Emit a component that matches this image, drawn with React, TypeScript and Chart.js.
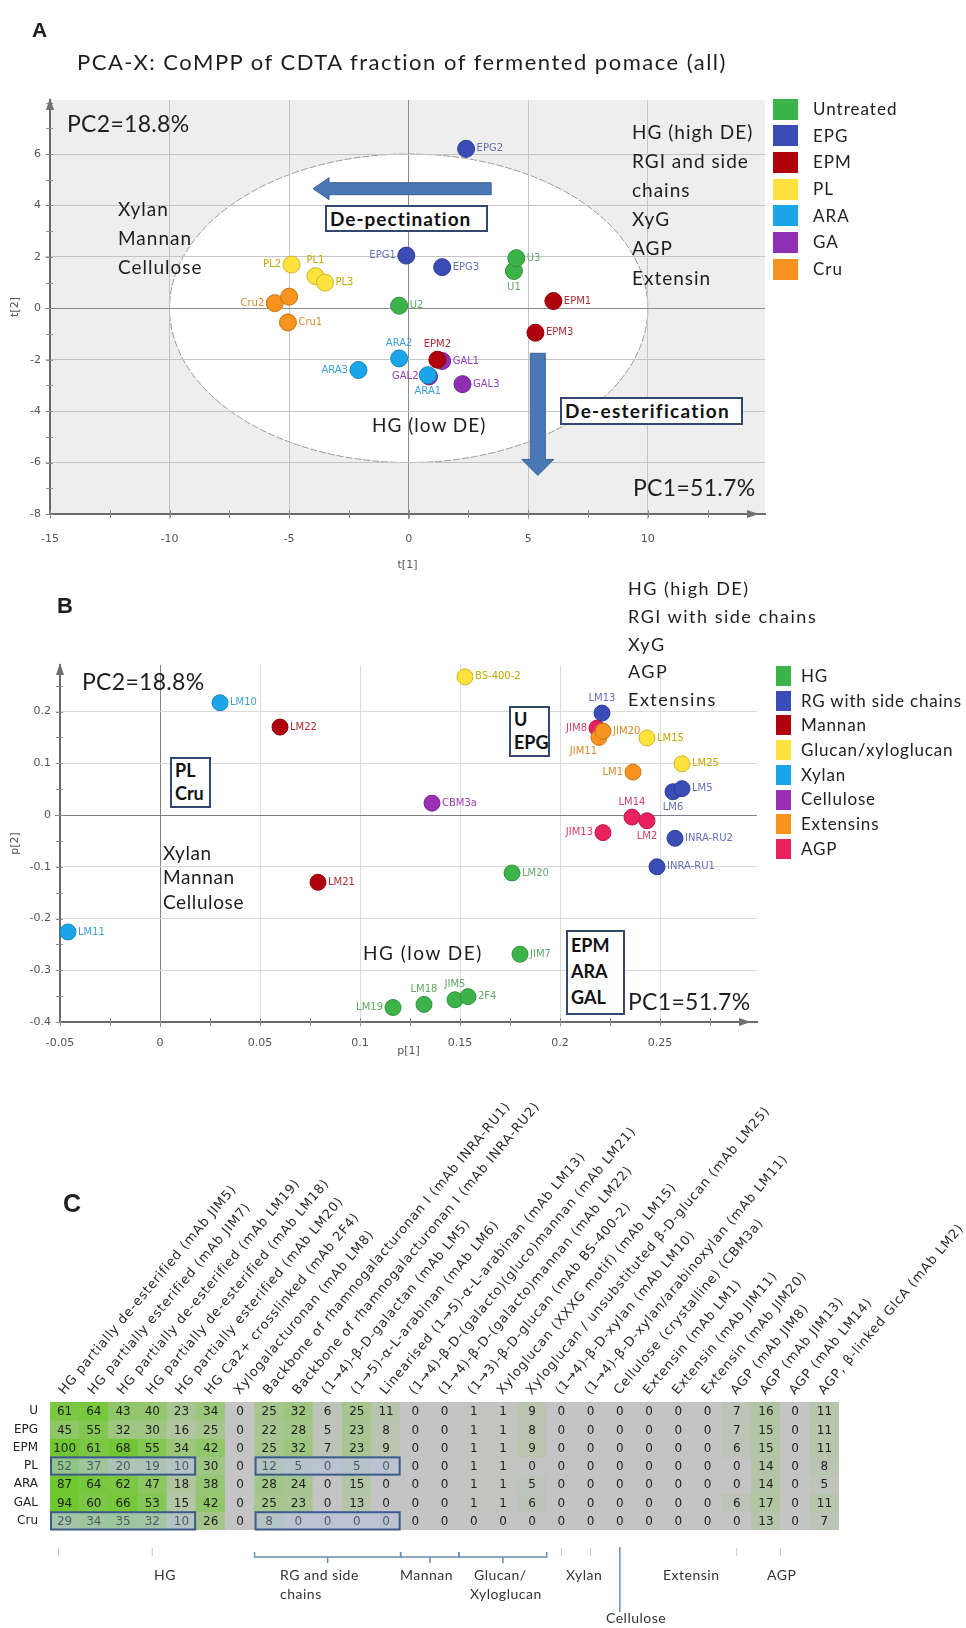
import React, { useEffect, useRef } from 'react';
import { Chart, registerables } from 'chart.js';

Chart.register(...registerables);

const FONT = 'Lato, "Open Sans", "DejaVu Sans", sans-serif';
const SMALL = '"DejaVu Sans", sans-serif';

// ================= Panel A data =================
const aTitle = 'PCA-X: CoMPP of CDTA fraction of fermented pomace (all)';
const aGroupNames = ['Untreated', 'EPG', 'EPM', 'PL', 'ARA', 'GA', 'Cru'];
const aSampleNames = ['U1', 'U2', 'U3', 'EPG1', 'EPG2', 'EPG3', 'EPM1', 'EPM2', 'EPM3', 'PL1', 'PL2', 'PL3', 'ARA1', 'ARA2', 'ARA3', 'GAL1', 'GAL2', 'GAL3', 'Cru1', 'Cru2', 'Cru3'];
const aSampleGroup = [0, 0, 0, 1, 1, 1, 2, 2, 2, 3, 3, 3, 4, 4, 4, 5, 5, 5, 6, 6, 6];
const aPC1 = [4.4, -0.4, 4.5, -0.1, 2.4, 1.4, 6.05, 1.2, 5.3, -3.9, -4.9, -3.5, 0.8, -0.4, -2.1, 1.4, 0.85, 2.25, -5.05, -5.6, -5.0];
const aPC2 = [1.45, 0.1, 1.95, 2.05, 6.2, 1.6, 0.28, -2.0, -0.95, 1.25, 1.7, 1.0, -2.6, -1.95, -2.4, -2.05, -2.65, -2.95, -0.55, 0.2, 0.45];
const aXTicks = [-15, -10, -5, 0, 5, 10];
const aYTicks = [-8, -6, -4, -2, 0, 2, 4, 6];
const aEllipseAxes = [10, 6];
const aRightNotes = ['HG (high DE)', 'RGI and side', 'chains', 'XyG', 'AGP', 'Extensin'];
const aLeftNotes = ['Xylan', 'Mannan', 'Cellulose'];

// ================= Panel B data =================
const bGroupNames = ['HG', 'RG with side chains', 'Mannan', 'Glucan/xyloglucan', 'Xylan', 'Cellulose', 'Extensins', 'AGP'];
const bProbeNames = ['LM19', 'LM18', 'JIM5', '2F4', 'LM20', 'JIM7', 'LM13', 'LM6', 'LM5', 'INRA-RU2', 'INRA-RU1', 'LM22', 'LM21', 'BS-400-2', 'LM15', 'LM25', 'LM10', 'LM11', 'CBM3a', 'LM1', 'JIM11', 'JIM20', 'JIM8', 'JIM13', 'LM14', 'LM2'];
const bProbeGroup = [0, 0, 0, 0, 0, 0, 1, 1, 1, 1, 1, 2, 2, 3, 3, 3, 4, 4, 5, 6, 6, 6, 7, 7, 7, 7];
const bP1 = [0.1165, 0.132, 0.1475, 0.154, 0.176, 0.18, 0.221, 0.2565, 0.261, 0.2575, 0.2485, 0.06, 0.079, 0.1525, 0.2435, 0.261, 0.03, -0.046, 0.136, 0.2365, 0.2195, 0.2215, 0.2185, 0.2215, 0.236, 0.2435];
const bP2 = [-0.372, -0.366, -0.357, -0.351, -0.112, -0.269, 0.197, 0.045, 0.051, -0.045, -0.1, 0.17, -0.13, 0.267, 0.149, 0.099, 0.217, -0.226, 0.023, 0.083, 0.15, 0.162, 0.168, -0.034, -0.004, -0.011];
const bXTicks = [-0.05, 0, 0.05, 0.1, 0.15, 0.2, 0.25];
const bYTicks = [-0.4, -0.3, -0.2, -0.1, 0, 0.1, 0.2];
const bRightNotes = ['HG (high DE)', 'RGI with side chains', 'XyG', 'AGP', 'Extensins'];
const bLeftNotes = ['Xylan', 'Mannan', 'Cellulose'];

// ================= Panel C data =================
const hmRows = ['U', 'EPG', 'EPM', 'PL', 'ARA', 'GAL', 'Cru'];
const hmColumns = [
  'HG partially de-esterified (mAb JIM5)',
  'HG partially esterified (mAb JIM7)',
  'HG partially de-esterified (mAb LM19)',
  'HG partially de-esterified (mAb LM18)',
  'HG partially esterified (mAb LM20)',
  'HG Ca2+ crosslinked (mAb 2F4)',
  'Xylogalacturonan (mAb LM8)',
  'Backbone of rhamnogalacturonan I (mAb INRA-RU1)',
  'Backbone of rhamnogalacturonan I (mAb INRA-RU2)',
  '(1\u21924)-\u03b2-D-galactan (mAb LM5)',
  '(1\u21925)-\u03b1-L-arabinan (mAb LM6)',
  'Linearised (1\u21925)-\u03b1-L-arabinan (mAb LM13)',
  '(1\u21924)-\u03b2-D-(galacto)(gluco)mannan (mAb LM21)',
  '(1\u21924)-\u03b2-D-(galacto)mannan (mAb LM22)',
  '(1\u21923)-\u03b2-D-glucan (mAb BS-400-2)',
  'Xyloglucan (XXXG motif) (mAb LM15)',
  'Xyloglucan / unsubstituted \u03b2-D-glucan (mAb LM25)',
  '(1\u21924)-\u03b2-D-xylan (mAb LM10)',
  '(1\u21924)-\u03b2-D-xylan/arabinoxylan (mAb LM11)',
  'Cellulose (crystalline) (CBM3a)',
  'Extensin (mAb LM1)',
  'Extensin (mAb JIM11)',
  'Extensin (mAb JIM20)',
  'AGP (mAb JIM8)',
  'AGP (mAb JIM13)',
  'AGP (mAb LM14)',
  'AGP, \u03b2-linked GlcA (mAb LM2)',
];
const hmU = [61, 64, 43, 40, 23, 34, 0, 25, 32, 6, 25, 11, 0, 0, 1, 1, 9, 0, 0, 0, 0, 0, 0, 7, 16, 0, 11];
const hmEPG = [45, 55, 32, 30, 16, 25, 0, 22, 28, 5, 23, 8, 0, 0, 1, 1, 8, 0, 0, 0, 0, 0, 0, 7, 15, 0, 11];
const hmEPM = [100, 61, 68, 55, 34, 42, 0, 25, 32, 7, 23, 9, 0, 0, 1, 1, 9, 0, 0, 0, 0, 0, 0, 6, 15, 0, 11];
const hmPL = [52, 37, 20, 19, 10, 30, 0, 12, 5, 0, 5, 0, 0, 0, 1, 1, 0, 0, 0, 0, 0, 0, 0, 0, 14, 0, 8];
const hmARA = [87, 64, 62, 47, 18, 38, 0, 28, 24, 0, 15, 0, 0, 0, 1, 1, 5, 0, 0, 0, 0, 0, 0, 0, 14, 0, 5];
const hmGAL = [94, 60, 66, 53, 15, 42, 0, 25, 23, 0, 13, 0, 0, 0, 1, 1, 6, 0, 0, 0, 0, 0, 0, 6, 17, 0, 11];
const hmCru = [29, 34, 35, 32, 10, 26, 0, 8, 0, 0, 0, 0, 0, 0, 0, 0, 0, 0, 0, 0, 0, 0, 0, 0, 13, 0, 7];
const hmValues = [hmU, hmEPG, hmEPM, hmPL, hmARA, hmGAL, hmCru];
const hmHighlightRows = [3, 6];
const hmHighlightSpans = [[0, 4], [7, 11]];
const hmBrackets = [[7, 11], [12, 13], [14, 16]];
const hmCelluloseColumn = 19;

// ================= styles =================
const aGroupColors = ['#3db44a', '#3a4cb5', '#b0000d', '#ffe23b', '#1ba6ea', '#8e2fb3', '#f7931e'];
const aLabelColors = ['#5fa866', '#6470bb', '#b32a30', '#c6a800', '#3c9fd6', '#9440b4', '#d88a2e'];
const aLabelSide = ['b', 'r', 'r', 'l', 'r', 'r', 'r', 't', 'r', 't', 'l', 'r', 'b', 't', 'l', 'r', 'l', 'r', 'r', 'l', 'n'];
const bGroupColors = ['#3db44a', '#3a4cb5', '#b0000d', '#ffe23b', '#1ba6ea', '#9a2fb5', '#f7931e', '#e8215f'];
const bLabelColors = ['#5fa866', '#6470bb', '#b32a30', '#c6a800', '#3c9fd6', '#9a40b4', '#d88a2e', '#d8406a'];
const bLabelSide = ['l', 't', 't', 'r', 'r', 'r', 't', 'b', 'r', 'r', 'r', 'r', 'r', 'r', 'r', 'r', 'r', 'r', 'r', 'l', 'bl', 'r', 'l', 'l', 't', 'b'];

const shade = (hex: string, f: number) => {
  const n = parseInt(hex.slice(1), 16);
  const r = (n >> 16) & 255, g = (n >> 8) & 255, b = n & 255;
  return `rgb(${Math.round(r * f)},${Math.round(g * f)},${Math.round(b * f)})`;
};

function cellColor(v: number) {
  const t = Math.min(v, 70) / 70;
  const r = Math.round(196 + (112 - 196) * t);
  const g = Math.round(196 + (200 - 196) * t);
  const b = Math.round(196 + (48 - 196) * t);
  return `rgb(${r},${g},${b})`;
}

function groupDatasets(groupNames: string[], colors: string[], labelColors: string[], names: string[], groups: number[], xs: number[], ys: number[], sides: string[], radius: number) {
  return groupNames.map((g, gi) => {
    const idx = names.map((_, i) => i).filter((i) => groups[i] === gi);
    return {
      label: g,
      data: idx.map((i) => ({ x: xs[i], y: ys[i] })),
      pointNames: idx.map((i) => names[i]),
      labelSides: idx.map((i) => sides[i]),
      labelColor: labelColors[gi],
      backgroundColor: colors[gi],
      borderColor: shade(colors[gi], 0.8),
      borderWidth: 1,
      pointRadius: radius,
      pointHoverRadius: radius,
      clip: false,
    };
  });
}

const pointLabelPlugin = {
  id: 'pointLabels',
  afterDatasetsDraw(chart: any) {
    const ctx = chart.ctx;
    chart.data.datasets.forEach((ds: any, di: number) => {
      const meta = chart.getDatasetMeta(di);
      meta.data.forEach((el: any, i: number) => {
        const side = ds.labelSides[i];
        if (side === 'n') return;
        const r = ds.pointRadius;
        let x = el.x, y = el.y;
        ctx.save();
        ctx.font = `10px ${SMALL}`;
        ctx.fillStyle = ds.labelColor;
        ctx.textBaseline = 'middle';
        if (side === 'r') { ctx.textAlign = 'left'; x += r + 2; }
        else if (side === 'l') { ctx.textAlign = 'right'; x -= r + 2; }
        else if (side === 't') { ctx.textAlign = 'center'; y -= r + 7; }
        else if (side === 'b') { ctx.textAlign = 'center'; y += r + 8; }
        else if (side === 'bl') { ctx.textAlign = 'right'; x -= 2; y += r + 6; }
        ctx.fillText(ds.pointNames[i], x, y);
        ctx.restore();
      });
    });
  },
};

function blockArrow(ctx: any, x1: number, y1: number, x2: number, y2: number, shaftW: number, headW: number, headL: number) {
  const ang = Math.atan2(y2 - y1, x2 - x1);
  const len = Math.hypot(x2 - x1, y2 - y1);
  ctx.save();
  ctx.translate(x1, y1);
  ctx.rotate(ang);
  ctx.beginPath();
  ctx.moveTo(0, -shaftW / 2);
  ctx.lineTo(len - headL, -shaftW / 2);
  ctx.lineTo(len - headL, -headW / 2);
  ctx.lineTo(len, 0);
  ctx.lineTo(len - headL, headW / 2);
  ctx.lineTo(len - headL, shaftW / 2);
  ctx.lineTo(0, shaftW / 2);
  ctx.closePath();
  ctx.fillStyle = '#4a78b4';
  ctx.fill();
  ctx.strokeStyle = '#3a6396';
  ctx.lineWidth = 1;
  ctx.stroke();
  ctx.restore();
}

function axisArrows(chart: any, color: string) {
  const { ctx, chartArea: a } = chart;
  ctx.save();
  ctx.fillStyle = color;
  ctx.beginPath();
  ctx.moveTo(a.left, a.top - 2);
  ctx.lineTo(a.left - 4, a.top + 10);
  ctx.lineTo(a.left + 4, a.top + 10);
  ctx.closePath();
  ctx.fill();
  ctx.beginPath();
  ctx.moveTo(a.right - 6, a.bottom);
  ctx.lineTo(a.right - 18, a.bottom - 4);
  ctx.lineTo(a.right - 18, a.bottom + 4);
  ctx.closePath();
  ctx.fill();
  ctx.restore();
}

function minorTicks(chart: any, xStep: number, yStep: number, color: string) {
  const { ctx, chartArea: a, scales: { x, y } } = chart;
  ctx.save();
  ctx.strokeStyle = color;
  ctx.lineWidth = 1;
  for (let v = x.min; v <= x.max - xStep * 0.5; v += xStep) {
    const px = Math.round(x.getPixelForValue(v)) + 0.5;
    ctx.beginPath(); ctx.moveTo(px, a.bottom - 4); ctx.lineTo(px, a.bottom + 4); ctx.stroke();
  }
  for (let v = y.min; v <= y.max; v += yStep) {
    const py = Math.round(y.getPixelForValue(v)) + 0.5;
    ctx.beginPath(); ctx.moveTo(a.left - 4, py); ctx.lineTo(a.left + 3, py); ctx.stroke();
  }
  ctx.restore();
}

const aBackgroundPlugin = {
  id: 'aBackground',
  beforeDraw(chart: any) {
    const { ctx, chartArea: a, scales: { x, y } } = chart;
    ctx.save();
    ctx.fillStyle = '#eeeeee';
    ctx.fillRect(a.left, a.top, a.right - a.left, a.bottom - a.top);
    const cx = x.getPixelForValue(0), cy = y.getPixelForValue(0);
    const rx = x.getPixelForValue(aEllipseAxes[0]) - cx;
    const ry = cy - y.getPixelForValue(aEllipseAxes[1]);
    ctx.beginPath();
    ctx.ellipse(cx, cy, rx, ry, 0, 0, Math.PI * 2);
    ctx.fillStyle = '#ffffff';
    ctx.fill();
    ctx.strokeStyle = '#9a9a9a';
    ctx.lineWidth = 1;
    ctx.setLineDash([7, 2]);
    ctx.stroke();
    ctx.restore();
  },
  afterDraw(chart: any) {
    const { ctx, scales: { x, y } } = chart;
    minorTicks(chart, 2.5, 1, '#8a8a8a');
    axisArrows(chart, '#707070');
    blockArrow(ctx, x.getPixelForValue(3.45), y.getPixelForValue(4.65), x.getPixelForValue(-4.0), y.getPixelForValue(4.65), 12, 22, 16);
    blockArrow(ctx, x.getPixelForValue(5.4), y.getPixelForValue(-1.75), x.getPixelForValue(5.4), y.getPixelForValue(-6.5), 15, 32, 16);
  },
};

const bDecorPlugin = {
  id: 'bDecor',
  afterDraw(chart: any) {
    minorTicks(chart, 0.025, 0.05, '#8a8a8a');
    axisArrows(chart, '#707070');
  },
};

const fmt = (v: number) => String(Math.round(v * 1000) / 1000);

function scatterConfig(datasets: any[], xTicks: number[], yTicks: number[], xMin: number, xMax: number, yMin: number, yMax: number, padding: any, yWidth: number, xHeight: number, xTitle: string, yTitle: string, gridColor: string, zeroColor: string, tickPadX: number, plugins: any[]) {
  const gridOpt = () => ({
    color: (c: any) => (c.tick && Math.abs(c.tick.value) < 1e-9 ? zeroColor : gridColor),
    lineWidth: 1,
    tickLength: 5,
  });
  return {
    type: 'scatter',
    data: { datasets },
    options: {
      responsive: false,
      animation: false,
      events: [],
      layout: { padding },
      plugins: { legend: { display: false }, tooltip: { enabled: false } },
      scales: {
        x: {
          type: 'linear', min: xMin, max: xMax,
          afterBuildTicks: (ax: any) => { ax.ticks = xTicks.map((v) => ({ value: v })); },
          afterFit: (s: any) => { s.height = xHeight; },
          grid: gridOpt(),
          border: { color: '#6a6a6a', width: 2 },
          ticks: { callback: (v: any) => fmt(v), font: { size: 11, family: SMALL }, color: '#555', padding: tickPadX, maxRotation: 0 },
          title: { display: true, text: xTitle, font: { size: 11, family: SMALL }, color: '#555', padding: { top: 0, bottom: 2 } },
        },
        y: {
          type: 'linear', min: yMin, max: yMax,
          afterBuildTicks: (ax: any) => { ax.ticks = yTicks.map((v) => ({ value: v })); },
          afterFit: (s: any) => { s.width = yWidth; },
          grid: gridOpt(),
          border: { color: '#6a6a6a', width: 2 },
          ticks: { callback: (v: any) => fmt(v), font: { size: 11, family: SMALL }, color: '#555', padding: 4 },
          title: { display: true, text: yTitle, font: { size: 11, family: SMALL }, color: '#555', padding: { top: 9, bottom: 0 } },
        },
      },
    },
    plugins,
  };
}

function configA() {
  const ds = groupDatasets(aGroupNames, aGroupColors, aLabelColors, aSampleNames, aSampleGroup, aPC1, aPC2, aLabelSide, 8.5);
  return scatterConfig(ds, aXTicks, aYTicks, -15, 14.9, -8, 8.1, { left: 0, top: 100, right: 201, bottom: 6 }, 50, 60, 't[1]', 't[2]', '#c4c4c4', '#8c8c8c', 14, [aBackgroundPlugin, pointLabelPlugin]);
}

function configB() {
  const ds = groupDatasets(bGroupNames, bGroupColors, bLabelColors, bProbeNames, bProbeGroup, bP1, bP2, bLabelSide, 8);
  return scatterConfig(ds, bXTicks, bYTicks, -0.05, 0.2985, -0.4, 0.29, { left: 0, top: 85, right: 209, bottom: 0 }, 60, 38, 'p[1]', 'p[2]', '#dadada', '#808080', 10, [bDecorPlugin, pointLabelPlugin]);
}

const heatmapPlugin = {
  id: 'heatmapDecor',
  afterDatasetsDraw(chart: any) {
    const ctx = chart.ctx;
    ctx.save();
    ctx.font = `12px ${SMALL}`;
    ctx.fillStyle = '#1e1e1e';
    ctx.textAlign = 'center';
    ctx.textBaseline = 'middle';
    chart.data.datasets.forEach((ds: any, di: number) => {
      const meta = chart.getDatasetMeta(di);
      meta.data.forEach((el: any, i: number) => {
        ctx.fillText(String(ds.values[i]), el.x, (el.y + el.base) / 2 + 1);
      });
    });
    ctx.restore();
  },
  afterDraw(chart: any) {
    const { ctx, chartArea: a, scales: { x, y } } = chart;
    const cw = x.getPixelForValue(1) - x.getPixelForValue(0);
    const edge = (i: number) => x.getPixelForValue(i) - cw / 2;
    // highlight boxes
    ctx.save();
    hmHighlightRows.forEach((r) => {
      hmHighlightSpans.forEach(([c0, c1]) => {
        const x0 = edge(c0) + 1, x1 = edge(c1 + 1) - 1;
        const y0 = y.getPixelForValue(r) + 0.5, y1 = y.getPixelForValue(r + 1) - 0.5;
        ctx.fillStyle = 'rgba(170,195,230,0.35)';
        ctx.fillRect(x0, y0, x1 - x0, y1 - y0);
        ctx.strokeStyle = '#3d5a8c';
        ctx.lineWidth = 2;
        ctx.strokeRect(x0, y0, x1 - x0, y1 - y0);
      });
    });
    ctx.restore();
    // column headers
    ctx.save();
    ctx.font = `13px ${SMALL}`;
    try { (ctx as any).letterSpacing = '0.8px'; } catch (e) { /* ignore */ }
    ctx.fillStyle = '#2a2a2a';
    ctx.textAlign = 'left';
    ctx.textBaseline = 'middle';
    hmColumns.forEach((c, i) => {
      ctx.save();
      ctx.translate(x.getPixelForValue(i) - 3, a.top - 9);
      ctx.rotate((-50 * Math.PI) / 180);
      ctx.fillText(c, 0, 0);
      ctx.restore();
    });
    try { (ctx as any).letterSpacing = '0px'; } catch (e) { /* ignore */ }
    ctx.restore();
    // group brackets
    ctx.save();
    ctx.strokeStyle = '#6a8cba';
    ctx.lineWidth = 1.5;
    const by = a.bottom + 27;
    hmBrackets.forEach(([c0, c1]) => {
      const x0 = edge(c0), x1 = edge(c1 + 1);
      ctx.beginPath();
      ctx.moveTo(x0, by - 5); ctx.lineTo(x0, by); ctx.lineTo(x1, by); ctx.lineTo(x1, by - 5);
      ctx.stroke();
      const xm = (x0 + x1) / 2;
      ctx.beginPath(); ctx.moveTo(xm, by); ctx.lineTo(xm, by + 6); ctx.stroke();
    });
    const cx = x.getPixelForValue(hmCelluloseColumn);
    ctx.beginPath(); ctx.moveTo(cx, a.bottom + 17); ctx.lineTo(cx, a.bottom + 82); ctx.stroke();
    ctx.strokeStyle = '#c8c8c8';
    ctx.lineWidth = 1;
    [0, 3, 17, 18, 23, 24.5].forEach((c) => {
      const px = x.getPixelForValue(c) - (c === 0 ? 6 : 0);
      ctx.beginPath(); ctx.moveTo(px, a.bottom + 18); ctx.lineTo(px, a.bottom + 26); ctx.stroke();
    });
    ctx.restore();
  },
};

function configC() {
  return {
    type: 'bar',
    data: {
      labels: hmColumns,
      datasets: hmRows.map((r, ri) => ({
        label: r,
        data: hmColumns.map(() => [ri, ri + 1]),
        values: hmValues[ri],
        backgroundColor: hmValues[ri].map(cellColor),
        borderWidth: 0,
        barPercentage: 1,
        categoryPercentage: 1,
        grouped: false,
      })),
    },
    options: {
      responsive: false,
      animation: false,
      events: [],
      layout: { padding: { left: 0, top: 342, right: 127, bottom: 98 } },
      plugins: { legend: { display: false }, tooltip: { enabled: false } },
      scales: {
        x: { type: 'category', display: false, offset: true },
        y: {
          type: 'linear', min: 0, max: 7, reverse: true,
          afterBuildTicks: (ax: any) => { ax.ticks = hmRows.map((_, i) => ({ value: i + 0.5 })); },
          afterFit: (s: any) => { s.width = 50; },
          ticks: { callback: (v: any) => hmRows[Math.floor(v)], font: { size: 12, family: SMALL }, color: '#222', padding: 4 },
          grid: { display: false },
          border: { display: false },
        },
      },
    },
    plugins: [heatmapPlugin],
  };
}

function ChartCanvas({ make, left, top, width, height }: any) {
  const ref = useRef<HTMLCanvasElement>(null);
  useEffect(() => {
    const chart = new Chart(ref.current as any, make());
    return () => chart.destroy();
  }, []);
  return <canvas ref={ref} width={width} height={height} style={{ position: 'absolute', left, top, width, height }} />;
}

function Txt({ x, y, size = 18, bold = false, color = '#1e1e1e', family = FONT, ls = 0, children }: any) {
  return (
    <div style={{ position: 'absolute', left: x, top: y - size * 0.6, fontSize: size, lineHeight: `${size * 1.2}px`, fontWeight: bold ? 700 : 400, color, whiteSpace: 'nowrap', fontFamily: family, letterSpacing: ls }}>
      {children}
    </div>
  );
}

function Box({ x, y, w, h, lines, size = 18, lineH, ls = 0 }: any) {
  const lh = lineH || h - 4;
  return (
    <div style={{ position: 'absolute', left: x, top: y, width: w, height: h, boxSizing: 'border-box', border: '2px solid #34476f', background: '#fff', fontFamily: FONT, fontWeight: 700, fontSize: size, lineHeight: `${lh}px`, paddingLeft: 3, color: '#111', whiteSpace: 'nowrap', overflow: 'hidden', letterSpacing: ls }}>
      {lines.map((l: string) => <div key={l}>{l}</div>)}
    </div>
  );
}

function Legend({ names, colors, x, y0, step, sw, sh, labelX, size, ls }: any) {
  return (
    <>
      {names.map((n: string, i: number) => (
        <React.Fragment key={n}>
          <div style={{ position: 'absolute', left: x, top: y0 + i * step - sh / 2, width: sw, height: sh, background: colors[i] }} />
          <Txt x={labelX} y={y0 + i * step} size={size} color="#222" ls={ls}>{n}</Txt>
        </React.Fragment>
      ))}
    </>
  );
}

export default function App() {
  return (
    <div style={{ position: 'absolute', left: 0, top: 0, width: 966, height: 1628, background: '#fff', overflow: 'hidden', fontFamily: FONT }}>
      <ChartCanvas make={configA} left={0} top={0} width={966} height={580} />
      <ChartCanvas make={configB} left={0} top={580} width={966} height={480} />
      <ChartCanvas make={configC} left={0} top={1060} width={966} height={568} />

      {/* Panel A */}
      <Txt x={32} y={30} size={21} bold family='"Liberation Sans", Arial, sans-serif'>A</Txt>
      <Txt x={77} y={62} size={22} ls={1.5}>{aTitle}</Txt>
      <Txt x={67} y={124} size={23} ls={0.3}>PC2=18.8%</Txt>
      {aLeftNotes.map((t, i) => <Txt key={t} x={118} y={209 + i * 29} size={19} ls={1}>{t}</Txt>)}
      {aRightNotes.map((t, i) => <Txt key={t} x={632} y={132 + i * 29.2} size={19} ls={1}>{t}</Txt>)}
      <Box x={325} y={205} w={163} h={27} lines={['De-pectination']} size={19} ls={1} />
      <Box x={560} y={397} w={183} h={28} lines={['De-esterification']} size={19} ls={1.3} />
      <Txt x={372} y={425} size={19} ls={1}>HG (low DE)</Txt>
      <Txt x={633} y={488} size={23} ls={0.3}>PC1=51.7%</Txt>
      <Legend names={aGroupNames} colors={aGroupColors} x={773} y0={109} step={26.7} sw={25} sh={21} labelX={813} size={17} ls={1} />

      {/* Panel B */}
      <Txt x={57} y={606} size={22} bold family='"Liberation Sans", Arial, sans-serif'>B</Txt>
      <Txt x={82} y={682} size={23} ls={0.3}>PC2=18.8%</Txt>
      {bRightNotes.map((t, i) => <Txt key={t} x={628} y={589 + i * 27.7} size={18} ls={1.5}>{t}</Txt>)}
      <Legend names={bGroupNames} colors={bGroupColors} x={776} y0={676} step={24.7} sw={15} sh={20} labelX={801} size={17} ls={0.8} />
      <Box x={170} y={757} w={41} h={51} lines={['PL', 'Cru']} size={18} lineH={23} />
      {bLeftNotes.map((t, i) => <Txt key={t} x={163} y={853 + i * 24.5} size={19} ls={0.6}>{t}</Txt>)}
      <Txt x={363} y={953} size={19} ls={1.5}>HG (low DE)</Txt>
      <Box x={509} y={706} w={41} h={51} lines={['U', 'EPG']} size={18} lineH={23} />
      <Box x={566} y={930} w={59} h={85} lines={['EPM', 'ARA', 'GAL']} size={18} lineH={26} />
      <Txt x={628} y={1002} size={23} ls={0.3}>PC1=51.7%</Txt>

      {/* Panel C */}
      <Txt x={63} y={1203} size={25} bold family='"Liberation Sans", Arial, sans-serif'>C</Txt>
      <Txt x={154} y={1575} size={14} color="#333" ls={0.5}>HG</Txt>
      <Txt x={280} y={1575} size={14} color="#333" ls={0.5}>RG and side</Txt>
      <Txt x={280} y={1594} size={14} color="#333" ls={0.5}>chains</Txt>
      <Txt x={400} y={1575} size={14} color="#333" ls={0.5}>Mannan</Txt>
      <Txt x={474} y={1575} size={14} color="#333" ls={0.5}>Glucan/</Txt>
      <Txt x={470} y={1594} size={14} color="#333" ls={0.5}>Xyloglucan</Txt>
      <Txt x={566} y={1575} size={14} color="#333" ls={0.5}>Xylan</Txt>
      <Txt x={663} y={1575} size={14} color="#333" ls={0.5}>Extensin</Txt>
      <Txt x={767} y={1575} size={14} color="#333" ls={0.5}>AGP</Txt>
      <Txt x={606} y={1618} size={14} color="#333" ls={0.5}>Cellulose</Txt>
    </div>
  );
}
